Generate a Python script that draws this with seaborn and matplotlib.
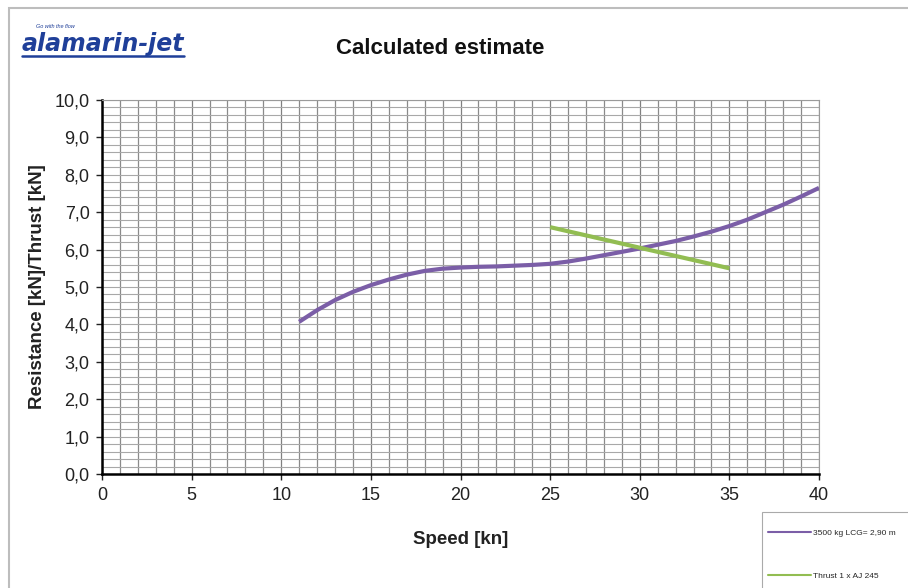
import matplotlib
matplotlib.use("Agg")
import matplotlib.pyplot as plt
import seaborn as sns
import pandas as pd
import numpy as np
from matplotlib.lines import Line2D
from matplotlib.patches import Rectangle

# ---- data ----
speed_res = [11, 12, 13, 14, 15, 16, 17, 18, 19, 20, 21, 22, 23, 24, 25,
             26, 27, 28, 29, 30, 31, 32, 33, 34, 35, 36, 37, 38, 39, 40]
resistance = [4.07, 4.38, 4.65, 4.87, 5.05, 5.20, 5.33, 5.43, 5.49, 5.52,
              5.54, 5.55, 5.57, 5.59, 5.62, 5.68, 5.76, 5.85, 5.94, 6.03,
              6.13, 6.23, 6.35, 6.48, 6.63, 6.80, 7.00, 7.20, 7.42, 7.65]
speed_thrust = [25, 30, 35]
thrust = [6.60, 6.05, 5.50]

series_labels = ["3500 kg LCG= 2,90 m", "Thrust 1 x AJ 245"]
x_ticks = [0, 5, 10, 15, 20, 25, 30, 35, 40]
y_ticks = [0, 1, 2, 3, 4, 5, 6, 7, 8, 9, 10]
y_tick_labels = ["0,0", "1,0", "2,0", "3,0", "4,0", "5,0", "6,0", "7,0", "8,0", "9,0", "10,0"]
title = "Calculated estimate"
x_label = "Speed [kn]"
y_label = "Resistance [kN]/Thrust [kN]"

purple = "#7b5ea7"
green = "#92bd52"

sns.set_style("white")
plt.rcParams['font.family'] = ['Liberation Sans', 'DejaVu Sans']

fig = plt.figure(figsize=(9.08, 5.88), dpi=100)
W, H = 908, 588
ax = fig.add_axes([102 / W, 1 - 474 / H, (819 - 102) / W, (474 - 100) / H])

df_res = pd.DataFrame({"speed": speed_res, "value": resistance})
df_thr = pd.DataFrame({"speed": speed_thrust, "value": thrust})
sns.lineplot(data=df_res, x="speed", y="value", ax=ax, color=purple, lw=3,
             solid_capstyle="butt", zorder=5)
sns.lineplot(data=df_thr, x="speed", y="value", ax=ax, color=green, lw=3,
             solid_capstyle="butt", zorder=5)

ax.set_xlim(0, 40)
ax.set_ylim(0, 10)
ax.set_xticks(x_ticks)
ax.set_xticks(np.arange(0, 41, 1), minor=True)
ax.set_yticks(y_ticks)
ax.set_yticklabels(y_tick_labels)
ax.set_yticks(np.arange(0, 10.01, 0.2), minor=True)
ax.grid(which="major", axis="x", color="#808080", lw=0.9)
ax.grid(which="minor", axis="x", color="#8a8a8a", lw=0.9)
ax.grid(which="both", axis="y", color="#a8a8a8", lw=0.8)
ax.set_axisbelow(True)
ax.tick_params(axis="both", which="major", labelsize=13, colors="#222222",
               length=4, width=1, direction="out", pad=5)
ax.tick_params(axis="both", which="minor", length=0)
ax.tick_params(axis="x", bottom=True)
ax.tick_params(axis="y", left=True)
for s in ["left", "bottom"]:
    ax.spines[s].set_color("black")
    ax.spines[s].set_linewidth(1.8)
for s in ["top", "right"]:
    ax.spines[s].set_color("#9a9a9a")
    ax.spines[s].set_linewidth(0.8)

ax.set_xlabel(x_label, fontsize=13.5, fontweight="bold", color="#222222", labelpad=20)
ax.set_ylabel(y_label, fontsize=13.5, fontweight="bold", color="#222222", labelpad=6)
fig.text(440 / W, 1 - 48 / H, title, fontsize=16, fontweight="bold",
         ha="center", va="center", color="#111111")

# outer frame
fig.add_artist(Rectangle((9 / W, -0.05), 1.2, 1 - 8 / H + 0.05,
                         transform=fig.transFigure, fill=False,
                         edgecolor="#bdbdbd", lw=1.5))

# logo
fig.text(22 / W, 1 - 44 / H, "alamarin-jet", fontsize=17, fontweight="bold",
         style="italic", color="#1f3f99", ha="left", va="center",
         family=["DejaVu Sans"])
fig.add_artist(Line2D([22 / W, 184 / W], [1 - 56 / H, 1 - 56 / H],
                      transform=fig.transFigure, color="#1f3f99", lw=1.8))
fig.text(36 / W, 1 - 27 / H, "Go with the flow", fontsize=4, style="italic",
         color="#1f3f99", ha="left", va="center")

# legend box (extends past the figure edge as in the reference)
fig.add_artist(Rectangle((762 / W, -0.05), 0.3, 1 - 512 / H + 0.05,
                         transform=fig.transFigure, fill=False,
                         edgecolor="#aaaaaa", lw=0.8))
handles = [Line2D([0], [0], color=purple, lw=1.5),
           Line2D([0], [0], color=green, lw=1.5)]
leg = fig.legend(handles, series_labels, loc="upper left",
                 bbox_to_anchor=(768 / W, 1 - 529 / H), fontsize=6,
                 frameon=False, handlelength=5.2, handletextpad=0.15,
                 labelspacing=4.2, borderpad=0, borderaxespad=0)

fig.savefig("out.png", dpi=100)
